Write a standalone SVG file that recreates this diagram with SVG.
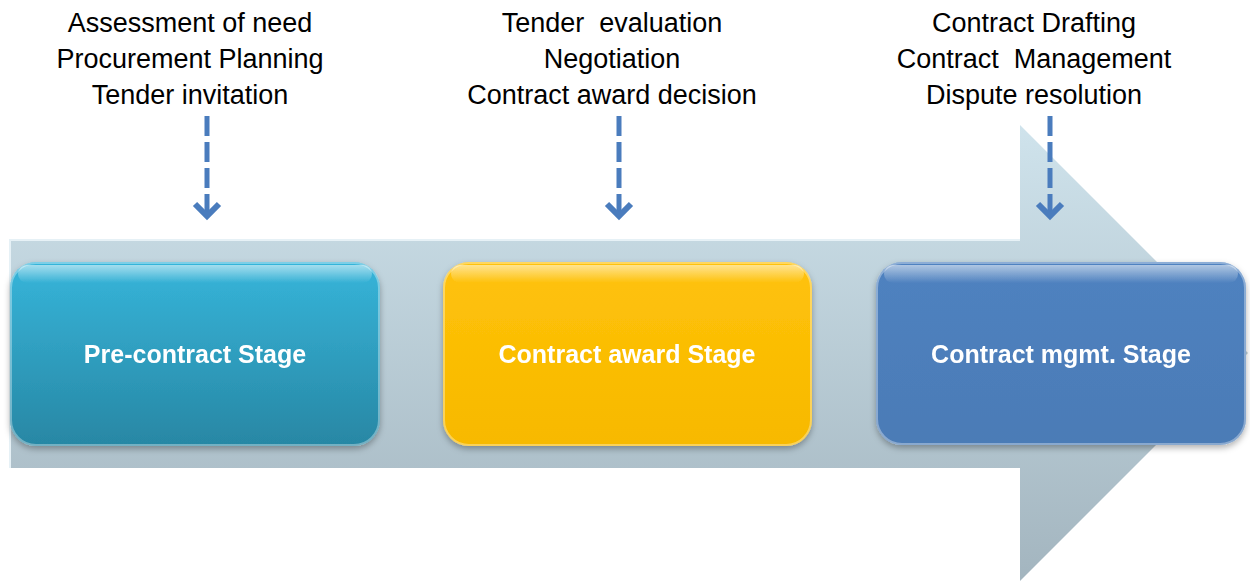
<svg xmlns="http://www.w3.org/2000/svg" width="1250" height="581" viewBox="0 0 1250 581">
<defs>
<linearGradient id="gBody" x1="0" y1="0" x2="0" y2="1">
<stop offset="0" stop-color="#cfe3ec"/>
<stop offset="1" stop-color="#a3b5bf"/>
</linearGradient>
<linearGradient id="gCyan" x1="0" y1="0" x2="0" y2="1">
<stop offset="0" stop-color="#36b5da"/>
<stop offset="1" stop-color="#2887a4"/>
</linearGradient>
<linearGradient id="gGold" x1="0" y1="0" x2="0" y2="1">
<stop offset="0" stop-color="#ffc20a"/>
<stop offset="1" stop-color="#f7b900"/>
</linearGradient>
<linearGradient id="gBlue" x1="0" y1="0" x2="0" y2="1">
<stop offset="0" stop-color="#4f82c0"/>
<stop offset="1" stop-color="#4b7bb6"/>
</linearGradient>
<linearGradient id="gShine" x1="0" y1="0" x2="0" y2="1">
<stop offset="0" stop-color="#ffffff" stop-opacity="0.55"/>
<stop offset="1" stop-color="#ffffff" stop-opacity="0"/>
</linearGradient>
<filter id="shadow" x="-10%" y="-10%" width="120%" height="130%">
<feDropShadow dx="0" dy="3" stdDeviation="3" flood-color="#000" flood-opacity="0.3"/>
</filter>
<marker id="chev" viewBox="0 0 20 30" refX="16" refY="15" markerWidth="20" markerHeight="30" markerUnits="userSpaceOnUse" orient="auto">
<polyline points="3,3 15,15 3,27" fill="none" stroke="#4a7cbd" stroke-width="6"/>
</marker>
</defs>
<style>
.cap{font-family:"Liberation Sans",Arial,sans-serif;font-size:27px;fill:#000;text-anchor:middle;white-space:pre}
.lbl{font-family:"Liberation Sans",Arial,sans-serif;font-size:25px;font-weight:bold;fill:#fff;text-anchor:middle}
.dash{stroke:#4a7cbd;stroke-width:5;stroke-dasharray:20 6;fill:none}
.rim{fill:none;stroke:#ffffff;stroke-opacity:0.35;stroke-width:2}
</style>
<g id="bigArrow">
<polygon points="10,240 1020,240 1020,125 1248,353 1020,581 1020,468 10,468" fill="url(#gBody)"/>
<polyline points="10,468 10,240 1020,240" fill="none" stroke="#e6f1f6" stroke-width="2"/>
</g>
<g id="captions">
<text class="cap" x="190" y="32">Assessment of need</text>
<text class="cap" x="190" y="68">Procurement Planning</text>
<text class="cap" x="190" y="104">Tender invitation</text>
<text class="cap" x="612" y="32" xml:space="preserve">Tender  evaluation</text>
<text class="cap" x="612" y="68">Negotiation</text>
<text class="cap" x="612" y="104">Contract award decision</text>
<text class="cap" x="1034" y="32">Contract Drafting</text>
<text class="cap" x="1034" y="68" xml:space="preserve">Contract  Management</text>
<text class="cap" x="1034" y="104">Dispute resolution</text>
</g>
<g id="connectors">
<line class="dash" x1="207" y1="116" x2="207" y2="217" marker-end="url(#chev)"/>
<line class="dash" x1="619" y1="116" x2="619" y2="217" marker-end="url(#chev)"/>
<line class="dash" x1="1050" y1="116" x2="1050" y2="217" marker-end="url(#chev)"/>
</g>
<g id="node-pre" filter="url(#shadow)">
<rect x="10" y="262" width="370" height="184" rx="26" fill="url(#gCyan)"/>
<rect x="18" y="265" width="354" height="18" rx="9" fill="url(#gShine)"/>
<rect x="11" y="263" width="368" height="182" rx="25" class="rim"/>
<text class="lbl" x="195" y="363">Pre-contract Stage</text>
</g>
<g id="node-award" filter="url(#shadow)">
<rect x="443" y="262" width="369" height="184" rx="26" fill="url(#gGold)"/>
<rect x="451" y="265" width="353" height="18" rx="9" fill="url(#gShine)"/>
<rect x="444" y="263" width="367" height="182" rx="25" class="rim"/>
<text class="lbl" x="627" y="363">Contract award Stage</text>
</g>
<g id="node-mgmt" filter="url(#shadow)">
<rect x="876" y="262" width="370" height="183" rx="26" fill="url(#gBlue)"/>
<rect x="884" y="265" width="354" height="18" rx="9" fill="url(#gShine)"/>
<rect x="877" y="263" width="368" height="181" rx="25" class="rim"/>
<text class="lbl" x="1061" y="363">Contract mgmt. Stage</text>
</g>
</svg>
